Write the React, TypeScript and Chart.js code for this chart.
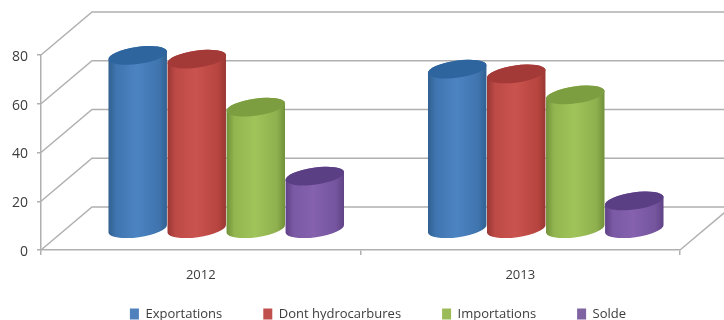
import React, { useEffect, useRef } from "react";
import { Chart, registerables } from "chart.js";

Chart.register(...registerables);

const years = ["2012", "2013"];
const exportations = [71, 65.4];
const hydrocarbures = [69.5, 63.4];
const importations = [49.8, 54.8];
const solde = [21.5, 11.3];

const FONT = "'Open Sans', sans-serif";
const INK = "#3c3c3c";
const RULE = "#b0b0b0";

// Depth of the box the cylinders stand in.
const DEPTH_X = 51;
const DEPTH_Y = 43;

// Shading of each cylinder: edge, side light, highlight, side shade, lid.
const shades = [
  ["#30608f", "#3f75b0", "#4c84c2", "#3f74ae", "#2e659f"],
  ["#983633", "#bd4a46", "#ca534f", "#b8453f", "#a33a37"],
  ["#708f39", "#93b550", "#a0c45a", "#8fb04e", "#7c9e40"],
  ["#5f4186", "#7a5aa4", "#8561ae", "#74559e", "#5b3f85"],
];

const boxWalls = {
  id: "boxWalls",
  beforeDatasetsDraw(chart: any) {
    const { ctx, chartArea, scales } = chart;
    const yScale = scales.y;
    ctx.save();
    ctx.strokeStyle = RULE;
    ctx.lineWidth = 1.5;
    for (const tick of yScale.ticks) {
      const y = yScale.getPixelForValue(tick.value);
      ctx.beginPath();
      ctx.moveTo(chartArea.left, y);
      ctx.lineTo(chartArea.left + DEPTH_X, y - DEPTH_Y);
      ctx.lineTo(chartArea.right + DEPTH_X, y - DEPTH_Y);
      ctx.stroke();
    }
    ctx.beginPath();
    ctx.moveTo(chartArea.right, chartArea.bottom);
    ctx.lineTo(chartArea.right + DEPTH_X, chartArea.bottom - DEPTH_Y);
    ctx.stroke();
    ctx.restore();
  },
};

// Replaces each flat bar with a cylinder standing mid-way through the box depth.
const cylinders = {
  id: "cylinders",
  beforeDatasetDraw(chart: any, args: any) {
    const { ctx } = chart;
    const tone = shades[args.index];
    const tilt = (-8 * Math.PI) / 180;
    const ry = 8.5;
    for (const bar of args.meta.data) {
      const cx = bar.x + DEPTH_X / 2;
      const rx = bar.width / 2;
      const topY = bar.y - DEPTH_Y / 2;
      const baseY = bar.base - DEPTH_Y / 2 + 1;
      const grad = ctx.createLinearGradient(cx - rx, 0, cx + rx, 0);
      grad.addColorStop(0, tone[0]);
      grad.addColorStop(0.14, tone[1]);
      grad.addColorStop(0.48, tone[2]);
      grad.addColorStop(0.86, tone[3]);
      grad.addColorStop(1, tone[0]);
      ctx.save();
      ctx.beginPath();
      ctx.ellipse(cx, baseY, rx, ry, tilt, Math.PI, 0, true);
      ctx.ellipse(cx, topY, rx, ry, tilt, 0, Math.PI, true);
      ctx.closePath();
      ctx.fillStyle = grad;
      ctx.fill();
      ctx.beginPath();
      ctx.ellipse(cx, topY, rx, ry, tilt, 0, Math.PI * 2);
      ctx.fillStyle = tone[4];
      ctx.fill();
      ctx.restore();
    }
    return false;
  },
};

// Places the legend row under the axis, slightly right of centre.
const legendRow = {
  id: "legendRow",
  afterLayout(chart: any) {
    const legend = chart.legend;
    const padding = legend.options.labels.padding;
    legend.left = 38;
    legend.right = 718;
    legend.top = 313 - padding - legend.options.labels.boxHeight / 2;
    legend.bottom = 320;
    legend.height = legend.bottom - legend.top;
  },
};

export default function App() {
  const canvasRef = useRef<HTMLCanvasElement | null>(null);

  useEffect(() => {
    document.body.style.margin = "0";
    const chart = new Chart(canvasRef.current as HTMLCanvasElement, {
      type: "bar",
      data: {
        labels: years,
        datasets: [
          { label: "Exportations", data: exportations, backgroundColor: "#4f81bd", borderWidth: 0 },
          { label: "Dont hydrocarbures", data: hydrocarbures, backgroundColor: "#c0504d", borderWidth: 0 },
          { label: "Importations", data: importations, backgroundColor: "#9bbb59", borderWidth: 0 },
          { label: "Solde", data: solde, backgroundColor: "#8064a2", borderWidth: 0 },
        ],
      },
      plugins: [boxWalls, cylinders, legendRow],
      options: {
        animation: false,
        responsive: false,
        layout: { padding: { top: 55, right: 44, bottom: 10, left: 0 } },
        datasets: { bar: { categoryPercentage: 0.739, barPercentage: 1 } },
        plugins: {
          tooltip: { enabled: false },
          legend: {
            position: "bottom",
            maxHeight: 20,
            labels: {
              boxWidth: 9,
              boxHeight: 11,
              padding: 41,
              color: INK,
              font: { family: FONT, size: 13 },
            },
          },
        },
        scales: {
          x: {
            afterFit(scale: any) {
              scale.height = 40;
            },
            border: { color: RULE, width: 1.5 },
            grid: { drawOnChartArea: false, color: RULE, tickLength: 5, lineWidth: 1.5 },
            ticks: { color: INK, padding: 12, font: { family: FONT, size: 13 } },
          },
          y: {
            min: 0,
            max: 80,
            afterFit(scale: any) {
              scale.width = 41;
            },
            border: { color: RULE, width: 1.5 },
            grid: { drawOnChartArea: false, color: RULE, tickLength: 4, lineWidth: 1.5 },
            ticks: { stepSize: 20, color: INK, padding: 9, labelOffset: 2, font: { family: FONT, size: 14 } },
          },
        },
      } as any,
    });
    return () => chart.destroy();
  }, []);

  return <canvas ref={canvasRef} width={724} height={320} style={{ display: "block", background: "#fff" }} />;
}
